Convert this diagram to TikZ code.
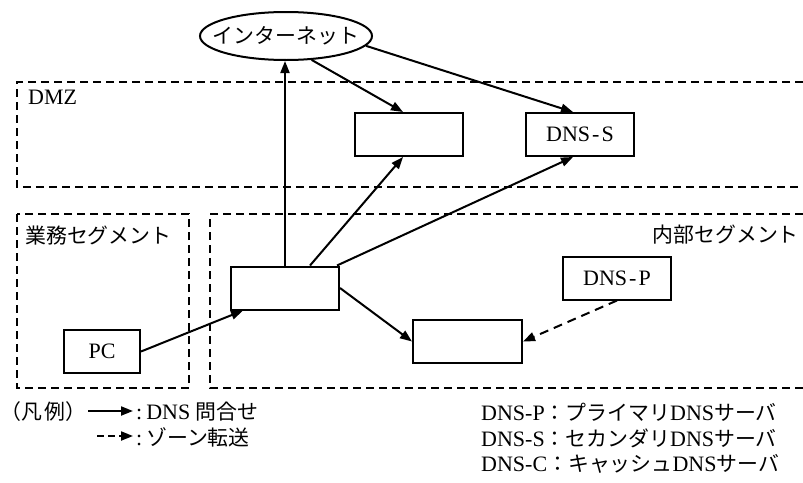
\documentclass[tikz,border=0pt]{standalone}
\usepackage{fontspec}
\setmainfont{Liberation Serif}
\newfontfamily\jp{Noto Sans CJK JP}[Scale=0.95]
\usetikzlibrary{arrows.meta,shapes.geometric,calc}
\begin{document}
\begin{tikzpicture}[x=1pt,y=-1pt,
  every node/.style={font=\fontsize{22}{26}\selectfont},
  box/.style={draw,line width=2pt,minimum width=108pt,minimum height=43pt,inner sep=0pt},
  zone/.style={line width=1.8pt,dash pattern=on 8pt off 5pt},
  query/.style={line width=2pt,-{Triangle[length=12pt,width=9pt]}},
  transfer/.style={query,dash pattern=on 9pt off 6pt},
  lbl/.style={inner sep=0pt}]
\useasboundingbox (0,0) rectangle (803,482);

% zones
\draw[zone] (803,82) -- (17,82) -- (17,187) -- (803,187);
\draw[zone] (17,214) rectangle (189,388);
\draw[zone] (803,214) -- (210,214) -- (210,388) -- (803,388);

% labels
\node[lbl,anchor=west] (dmzl) at (28,97) {DMZ};
\node[lbl,anchor=west] (bizl) at (25,236) {\jp 業務セグメント};
\node[lbl,anchor=east] (intl) at (799,235) {\jp 内部セグメント};

% nodes
\node[ellipse,draw,line width=2pt,minimum width=172pt,minimum height=48pt,inner sep=0pt] (inet) at (286,36) {\makebox[0pt]{\jp インターネット}};
\node[box] (web) at (409,134.5) {};
\node[box] (dnss) at (580,134.5) {DNS\kern2pt-\kern2pt S};
\node[box] (dnsc) at (285,288) {};
\node[box,minimum width=76pt] (pc) at (102,351.5) {PC};
\node[box] (dnsp) at (617,278) {DNS\kern2pt-\kern2pt P};
\node[box,minimum width=109pt] (fwd) at (467.5,341.5) {};

% connectors
\draw[query] (dnsc.north) -- (dnsc.north |- inet.south);
\draw[query] (inet.-43) -- ($(web.north)+(-6,0)$);
\draw[query] (inet.-7) -- ($(dnss.north)+(-7,0)$);
\draw[query] ($(dnsc.north)+(25,0)$) -- ($(web.south)+(-6,0)$);
\draw[query] ($(dnsc.north east)+(-3,0)$) -- ($(dnss.south)+(-7,0)$);
\draw[query] (dnsc.east) -- (fwd.west);
\draw[query] (pc.east) -- ($(dnsc.south west)+(13,0)$);
\draw[transfer] (dnsp.south) -- (fwd.east);

% legend
\node[lbl,anchor=west] (legend) at (0,412) {\jp （凡\kern3pt 例）};
\coordinate (q1) at (88,411);
\coordinate (q2) at (133,411);
\draw[query] (q1) -- (q2);
\node[lbl,anchor=west] (qtxt) at (136,412) {:\kern4pt DNS {\jp 問合せ}};
\coordinate (t1) at (97,436);
\coordinate (t2) at (133,436);
\draw[query,dash pattern=on 7pt off 4pt] (t1) -- (t2);
\node[lbl,anchor=west] (ttxt) at (136,437) {:\kern4pt{\jp ゾーン転送}};

\node[lbl,anchor=west] (kp) at (481,412) {DNS-P{\jp ：プライマリ}DNS{\jp サーバ}};
\node[lbl,anchor=west] (ks) at (481,438) {DNS-S{\jp ：セカンダリ}DNS{\jp サーバ}};
\node[lbl,anchor=west] (kc) at (481,464) {DNS-C{\jp ：キャッシュ}DNS{\jp サーバ}};
\end{tikzpicture}
\end{document}
